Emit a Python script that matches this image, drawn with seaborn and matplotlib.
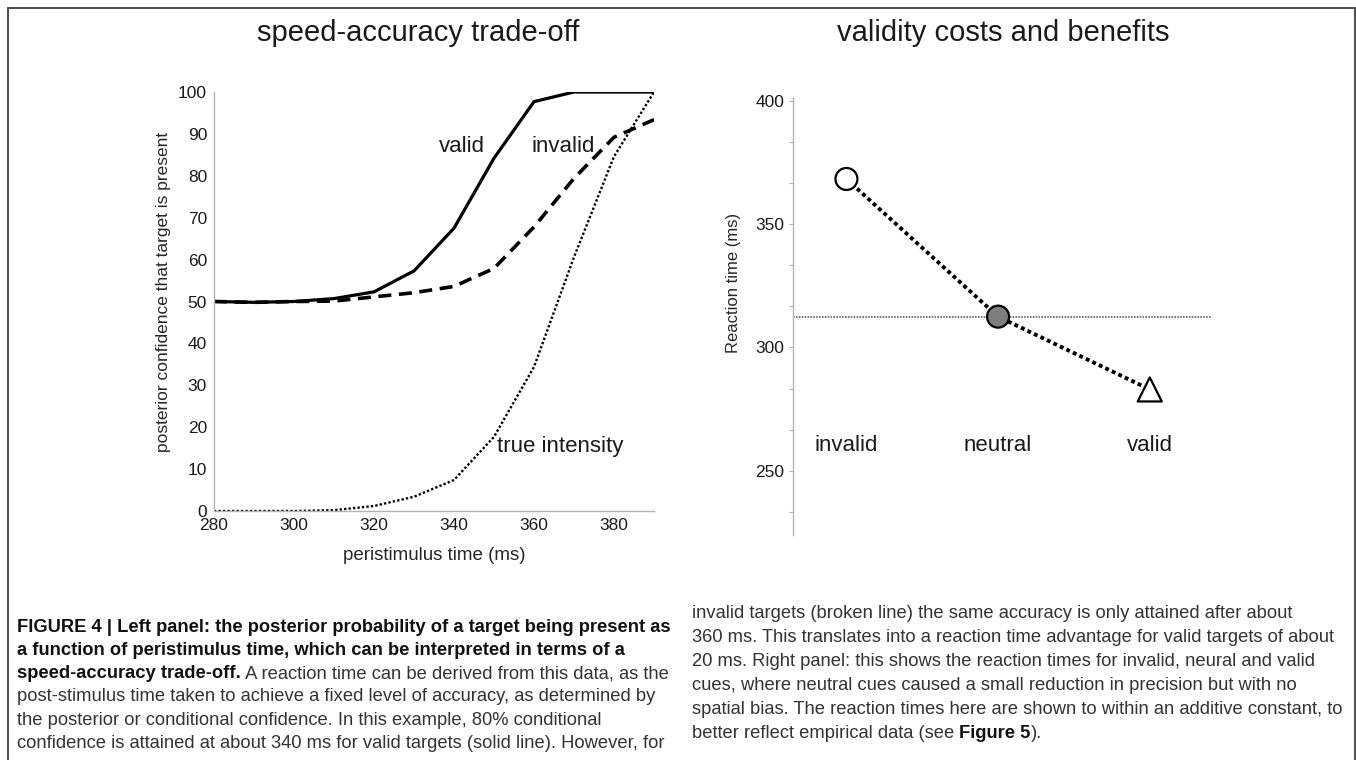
import matplotlib
matplotlib.use("Agg")
import matplotlib.pyplot as plt
from matplotlib.lines import Line2D
from matplotlib import font_manager
from matplotlib.ticker import FixedLocator
import seaborn as sns
import pandas as pd

# ---- left panel: posterior confidence over peristimulus time ----
time_ms = [280, 290, 300, 310, 320, 330, 340, 350, 360, 370, 380, 390]
conf_valid = [50.0, 49.8, 50.0, 50.7, 52.3, 57.3, 67.5, 84.2, 97.7, 100.0, 100.0, 100.0]
conf_invalid = [50.0, 49.8, 50.0, 50.1, 51.1, 52.1, 53.6, 57.9, 67.8, 79.4, 89.2, 93.4]
true_intensity = [0.0, 0.0, 0.0, 0.2, 1.2, 3.4, 7.4, 17.7, 34.4, 60.6, 84.6, 100.0]
left_xticks = [280, 300, 320, 340, 360, 380]
left_yticks = [0, 10, 20, 30, 40, 50, 60, 70, 80, 90, 100]

# ---- right panel: reaction times per cue ----
cues = ["invalid", "neutral", "valid"]
reaction_time = [368.3, 312.5, 283.0]
right_yticks = [250, 300, 350, 400]

caption_left = [
    [("FIGURE 4 | Left panel: the posterior probability of a target being present as", True)],
    [("a function of peristimulus time, which can be interpreted in terms of a", True)],
    [("speed-accuracy trade-off.", True), (" A reaction time can be derived from this data, as the", False)],
    [("post-stimulus time taken to achieve a fixed level of accuracy, as determined by", False)],
    [("the posterior or conditional confidence. In this example, 80% conditional", False)],
    [("confidence is attained at about 340 ms for valid targets (solid line). However, for", False)],
]
caption_right = [
    [("invalid targets (broken line) the same accuracy is only attained after about", False)],
    [("360 ms. This translates into a reaction time advantage for valid targets of about", False)],
    [("20 ms. Right panel: this shows the reaction times for invalid, neural and valid", False)],
    [("cues, where neutral cues caused a small reduction in precision but with no", False)],
    [("spatial bias. The reaction times here are shown to within an additive constant, to", False)],
    [("better reflect empirical data (see ", False), ("Figure 5", True), (").", False)],
]

sns.set_theme(style="white")
installed = {f.name for f in font_manager.fontManager.ttflist}
narrow = "Liberation Sans Narrow" if "Liberation Sans Narrow" in installed else "Liberation Sans"
plt.rcParams["font.family"] = [narrow, "DejaVu Sans"]
plt.rcParams["text.color"] = "#1a1a1a"

W, H = 1356, 760
fig = plt.figure(figsize=(W / 100, H / 100), dpi=100)
fig.patch.set_facecolor("white")


def px_box(left, top, right, bottom):
    return [left / W, 1 - bottom / H, (right - left) / W, (bottom - top) / H]


spine_col = "#b3b3b3"
tick_col = "#1a1a1a"

# ================= left panel =================
L_LEFT, L_TOP, L_RIGHT, L_BOTTOM = 214, 92, 654, 511
axL = fig.add_axes(px_box(L_LEFT, L_TOP, L_RIGHT, L_BOTTOM))
curves = pd.DataFrame({"time": time_ms, "valid": conf_valid,
                       "invalid": conf_invalid, "true": true_intensity})
sns.lineplot(data=curves, x="time", y="true", ax=axL, color="black",
             lw=1.7, linestyle=(0, (1.0, 0.9)))
sns.lineplot(data=curves, x="time", y="invalid", ax=axL, color="black",
             lw=2.6, linestyle=(0, (3.6, 2.1)))
sns.lineplot(data=curves, x="time", y="valid", ax=axL, color="black", lw=2.3)

axL.set_xlim(280, 390)
axL.set_ylim(0, 100)
axL.set_xticks(left_xticks)
axL.set_yticks(left_yticks)
axL.tick_params(axis="x", direction="in", length=5, width=0.8, color=spine_col,
                labelsize=12.5, labelcolor=tick_col, pad=5)
axL.tick_params(axis="y", direction="out", length=3, width=0.8, color=spine_col,
                labelsize=12.5, labelcolor=tick_col, pad=2)
for s in ("top", "right"):
    axL.spines[s].set_visible(False)
for s in ("left", "bottom"):
    axL.spines[s].set_color(spine_col)
    axL.spines[s].set_linewidth(1.0)
axL.set_xlabel("peristimulus time (ms)", fontsize=13.5)
axL.xaxis.set_label_coords(0.5, -(547 - L_BOTTOM) / (L_BOTTOM - L_TOP))
axL.set_ylabel("posterior confidence that target is present", fontsize=12.5)
axL.yaxis.set_label_coords((171 - L_LEFT) / (L_RIGHT - L_LEFT),
                           (L_BOTTOM - 292) / (L_BOTTOM - L_TOP))

axL.text(341.9, 87.0, "valid", fontsize=16, ha="center", va="center")
axL.text(367.3, 87.0, "invalid", fontsize=16, ha="center", va="center")
axL.text(366.5, 15.3, "true intensity", fontsize=16, ha="center", va="center")
fig.text(418 / W, 1 - 33 / H, "speed-accuracy trade-off", fontsize=21,
         ha="center", va="center")

# ================= right panel =================
R_LEFT, R_TOP, R_RIGHT, R_BOTTOM = 792.6, 98.3, 1211.5, 535.0
axR = fig.add_axes(px_box(R_LEFT, R_TOP, R_RIGHT, R_BOTTOM))
rt = pd.DataFrame({"cue": cues, "rt": reaction_time, "pos": [0, 1, 2]})

axR.axhline(reaction_time[1], color="#6a6a6a", lw=1.3, linestyle=(0, (0.9, 0.7)), zorder=1)
sns.lineplot(data=rt, x="pos", y="rt", ax=axR, color="black", lw=2.8,
             linestyle=(0, (1.0, 0.85)), zorder=2)
sns.scatterplot(data=rt, x="pos", y="rt", hue="cue", style="cue", ax=axR,
                palette={"invalid": "white", "neutral": "#7f7f7f", "valid": "white"},
                markers={"invalid": "o", "neutral": "o", "valid": "^"},
                s=[250, 250, 300], edgecolor="black", linewidth=1.6,
                legend=False, zorder=3)
for i, c in enumerate(cues):
    axR.text(i, 260.3, c, fontsize=16, ha="center", va="center")

axR.set_xlim(-0.355, 2.407)
axR.set_ylim(224, 401)
axR.yaxis.set_major_locator(FixedLocator(right_yticks))
axR.yaxis.set_minor_locator(FixedLocator([400 - k * 50 / 3 for k in range(11)
                                          if k % 3 != 0]))
axR.set_xticks([])
axR.set_xlabel("")
axR.tick_params(axis="y", which="both", direction="out", length=3, width=0.8,
                color=spine_col, labelsize=12.5, labelcolor=tick_col, pad=3, left=True)
for s in ("top", "right", "bottom"):
    axR.spines[s].set_visible(False)
axR.spines["left"].set_color(spine_col)
axR.spines["left"].set_linewidth(1.0)
axR.set_ylabel("Reaction time (ms)", fontsize=12)
axR.yaxis.set_label_coords((741 - R_LEFT) / (R_RIGHT - R_LEFT),
                           (R_BOTTOM - 283) / (R_BOTTOM - R_TOP))
fig.text(1003 / W, 1 - 33 / H, "validity costs and benefits", fontsize=21,
         ha="center", va="center")

# ================= outer frame =================
frame = dict(transform=fig.transFigure, color="#4d4d4d", lw=1.4)
fig.add_artist(Line2D([7.5 / W, 1354.5 / W], [1 - 7.5 / H, 1 - 7.5 / H], **frame))
fig.add_artist(Line2D([7.5 / W, 7.5 / W], [0, 1 - 7.5 / H], **frame))
fig.add_artist(Line2D([1354.5 / W, 1354.5 / W], [0, 1 - 7.5 / H], **frame))

# ================= caption =================
renderer = fig.canvas.get_renderer()


def draw_runs(x, y, runs, size=13.2):
    for text, bold in runs:
        t = fig.text(x / W, 1 - y / H, text, fontsize=size,
                     fontweight="bold" if bold else "normal",
                     color="#111111" if bold else "#333333",
                     ha="left", va="center")
        x = t.get_window_extent(renderer).x1


for i, runs in enumerate(caption_left):
    draw_runs(17, 627 + 23.3 * i, runs)
for i, runs in enumerate(caption_right):
    draw_runs(692, 614 + 24.0 * i, runs)

fig.savefig("out.png", dpi=100)
